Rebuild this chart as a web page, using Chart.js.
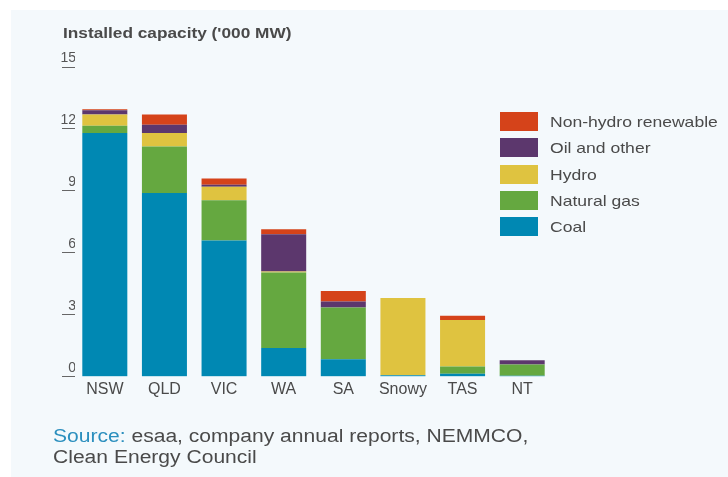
<!DOCTYPE html>
<html>
<head>
<meta charset="utf-8">
<script src="https://cdn.jsdelivr.net/npm/chart.js@4.4.1/dist/chart.umd.min.js"></script>
<style>
  html, body { margin: 0; padding: 0; background: #ffffff; }
  body { width: 728px; height: 477px; position: relative; overflow: hidden; font-family: 'Liberation Sans', Arial, sans-serif; }
  .panel { position: absolute; left: 11px; top: 10px; right: 0; bottom: 0; background: #f4f9fc; }
  #chart { position: absolute; left: 0; top: 0; }
  .title { position: absolute; left: 63px; top: 25px; font-size: 15px; line-height: 15px; font-weight: bold; color: #4a4a4a; transform: scaleX(1.15); transform-origin: left top; white-space: nowrap; }
  .legend { position: absolute; left: 500px; top: 112px; }
  .legend .row { height: 26.3px; position: relative; }
  .legend .box { position: absolute; left: 0; top: 0; width: 38px; height: 19px; }
  .legend .label { position: absolute; left: 50px; top: 1px; font-size: 15px; line-height: 17px; color: #4a4a4a; transform: scaleX(1.17); transform-origin: left top; white-space: nowrap; }
  .source { position: absolute; left: 53px; top: 426px; font-size: 18px; line-height: 21px; color: #4a4a4a; transform: scaleX(1.17); transform-origin: left top; white-space: nowrap; }
  .source span { color: #2b8fbe; }
</style>
</head>
<body>
<div class="panel"></div>
<canvas id="chart" width="728" height="477"></canvas>
<div class="title">Installed capacity ('000 MW)</div>
<div class="legend" id="legend"></div>
<div class="source"><span>Source:</span> esaa, company annual reports, NEMMCO,<br>Clean Energy Council</div>
<script>
// Installed capacity by region, '000 MW
const regions = ['NSW', 'QLD', 'VIC', 'WA', 'SA', 'Snowy', 'TAS', 'NT'];
const coal = [11.8, 8.9, 6.6, 1.4, 0.85, 0.07, 0.15, 0.05];
const naturalGas = [0.35, 2.25, 1.95, 3.65, 2.5, 0, 0.35, 0.55];
const hydro = [0.55, 0.65, 0.65, 0.05, 0, 3.75, 2.25, 0];
const oilOther = [0.2, 0.4, 0.1, 1.8, 0.3, 0, 0, 0.2];
const nonHydroRenewable = [0.05, 0.5, 0.3, 0.25, 0.5, 0, 0.2, 0];
const yTicks = [0, 3, 6, 9, 12, 15];

const series = [
  { label: 'Coal', data: coal, color: '#0088b3' },
  { label: 'Natural gas', data: naturalGas, color: '#65a840' },
  { label: 'Hydro', data: hydro, color: '#dfc340' },
  { label: 'Oil and other', data: oilOther, color: '#5c376d' },
  { label: 'Non-hydro renewable', data: nonHydroRenewable, color: '#d5431a' }
];

const chart = new Chart(document.getElementById('chart'), {
  type: 'bar',
  data: {
    labels: regions,
    datasets: series.map(s => ({
      label: s.label,
      data: s.data,
      backgroundColor: s.color,
      borderWidth: 0,
      barPercentage: 0.755,
      categoryPercentage: 1
    }))
  },
  options: {
    responsive: false,
    animation: false,
    devicePixelRatio: 1,
    layout: { padding: { left: 61, right: 176, top: 67, bottom: 75 } },
    plugins: {
      legend: { display: false },
      tooltip: { enabled: false }
    },
    scales: {
      x: {
        stacked: true,
        grid: { display: false, drawTicks: false },
        border: { display: false },
        ticks: { color: '#4a4a4a', padding: 3, font: { family: "'Liberation Sans', Arial, sans-serif", size: 16 } }
      },
      y: {
        stacked: true,
        min: 0,
        max: 15,
        afterFit: scale => { scale.width = 14; },
        afterBuildTicks: scale => { scale.ticks = yTicks.map(v => ({ value: v })); },
        grid: { drawOnChartArea: false, drawTicks: true, tickLength: 13, color: '#666', lineWidth: 1 },
        border: { display: false },
        ticks: {
          color: '#555',
          padding: -14,
          labelOffset: -9,
          font: { family: "'Liberation Sans', Arial, sans-serif", size: 14 }
        }
      }
    }
  }
});

// legend, top item first
const legend = document.getElementById('legend');
chart.data.datasets.slice().reverse().forEach(ds => {
  const row = document.createElement('div');
  row.className = 'row';
  row.innerHTML = '<div class="box" style="background:' + ds.backgroundColor + '"></div><div class="label">' + ds.label + '</div>';
  legend.appendChild(row);
});
</script>
</body>
</html>
